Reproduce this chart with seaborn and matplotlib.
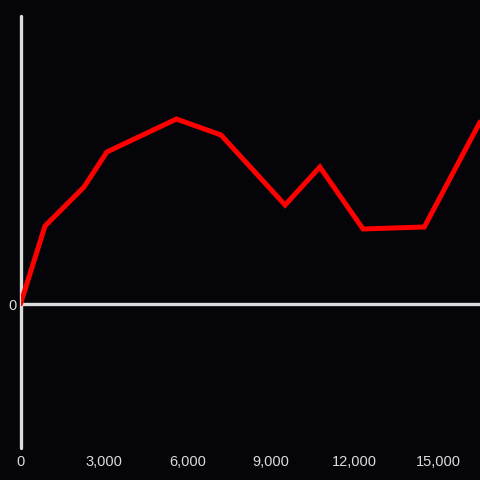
import numpy as np
import pandas as pd
import matplotlib
matplotlib.use('Agg')
import matplotlib.pyplot as plt
import seaborn as sns
from matplotlib.ticker import FuncFormatter

# values
x_vals = [0, 880, 2280, 3100, 5600, 7200, 9500, 10750, 12300, 14500, 16500]
y_vals = [0, 78, 117, 152, 185, 169, 99, 137, 75, 77, 182]
x_ticks = [0, 3000, 6000, 9000, 12000, 15000]

bg = '#050408'
fg = '#dcdcdc'

sns.set_theme(style='white')
plt.rcParams['font.family'] = ['Liberation Sans', 'DejaVu Sans']

df = pd.DataFrame({'x': x_vals, 'y': y_vals})

fig = plt.figure(figsize=(4.8, 4.8), dpi=100, facecolor=bg)
ax = fig.add_axes([20.5/480, 32/480, (480-20.5)/480, (448-16)/480])
ax.set_facecolor(bg)

sns.lineplot(data=df, x='x', y='y', color='#ff0000', linewidth=3.6, ax=ax,
             solid_joinstyle='miter', zorder=3)

ax.set_xlim(0, 16500)
ax.set_ylim(-144, 288)

for s in ax.spines.values():
    s.set_visible(False)
ax.axvline(0, color=fg, linewidth=2.4, zorder=2, clip_on=False)
ax.axhline(0, color=fg, linewidth=2.4, zorder=2)

ax.set_xticks(x_ticks)
ax.xaxis.set_major_formatter(FuncFormatter(lambda v, p: f'{int(v):,}'))
ax.set_yticks([0])
ax.tick_params(axis='both', length=0, colors=fg, labelsize=10.5)
ax.tick_params(axis='x', pad=5)
ax.tick_params(axis='y', pad=3)
ax.set_xlabel('')
ax.set_ylabel('')
ax.grid(False)

fig.savefig('out.png', dpi=100, facecolor=bg)
